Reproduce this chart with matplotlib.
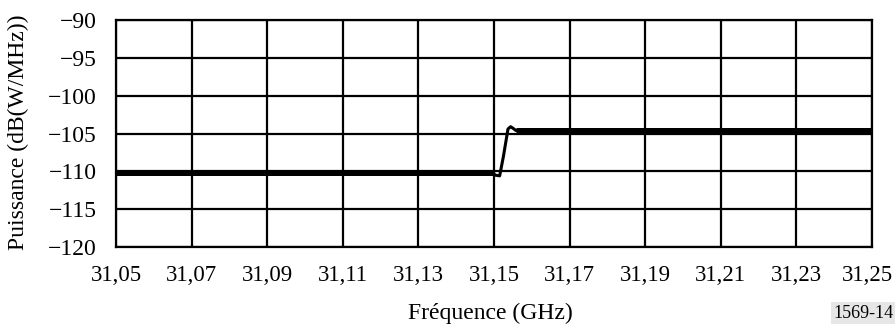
import matplotlib
matplotlib.use("Agg")
import matplotlib.pyplot as plt
import matplotlib.transforms as mtransforms

# Power spectral density vs. frequency
freq_ghz = [31.05, 31.1498, 31.1503, 31.1515, 31.1525, 31.1537, 31.1544, 31.1550, 31.1558, 31.25]
power_dbw = [-110.2, -110.2, -110.5, -110.6, -108.0, -104.4, -104.1, -104.3, -104.6, -104.6]

x_ticks = [31.05, 31.07, 31.09, 31.11, 31.13, 31.15, 31.17, 31.19, 31.21, 31.23, 31.25]
y_ticks = [-120, -115, -110, -105, -100, -95, -90]

x_tick_labels = [f"{v:.2f}".replace(".", ",") for v in x_ticks]
y_tick_labels = [f"\u2212{abs(v)}" for v in y_ticks]

plt.rcParams["font.family"] = ["Liberation Serif", "DejaVu Serif"]

fig = plt.figure(figsize=(8.96, 3.26), dpi=100)
ax = fig.add_axes([116 / 896, 1 - 247 / 326, (872 - 116) / 896, (247 - 20) / 326])

ax.set_xlim(31.05, 31.25)
ax.set_ylim(-120, -90)
ax.set_xticks(x_ticks)
ax.set_xticklabels(x_tick_labels)
ax.set_yticks(y_ticks)
ax.set_yticklabels(y_tick_labels)
ax.tick_params(length=0, labelsize=17)
ax.tick_params(axis="x", pad=13, labelsize=16.5)
ax.tick_params(axis="y", pad=14)

# keep the last frequency label inside the figure edge
last = ax.get_xticklabels()[-1]
last.set_transform(last.get_transform() + mtransforms.ScaledTranslation(-5 / 100, 0, fig.dpi_scale_trans))

ax.grid(True, color="black", linewidth=1.6)
for s in ax.spines.values():
    s.set_linewidth(1.6)
    s.set_color("black")

# transition drawn thinner, flat levels thicker
ax.plot(freq_ghz, power_dbw, color="black", linewidth=2.2, solid_joinstyle="round", zorder=3)
ax.plot(freq_ghz[:2], power_dbw[:2], color="black", linewidth=3.6, solid_capstyle="butt", zorder=3)
ax.plot(freq_ghz[-2:], power_dbw[-2:], color="black", linewidth=3.6, solid_capstyle="butt", zorder=3)

fig.text(18 / 896, 1 - 132 / 326, "Puissance (dB(W/MHz))", ha="center", va="center",
         rotation=90, fontsize=17)
fig.text(490 / 896, 1 - 313 / 326, "Fréquence (GHz)", ha="center", va="center", fontsize=17)
fig.text(863 / 896, 1 - 313 / 326, "1569-14", ha="center", va="center", fontsize=13,
         bbox=dict(facecolor="#e6e6e6", edgecolor="none", pad=1.5))

fig.savefig("out.png", dpi=100)
